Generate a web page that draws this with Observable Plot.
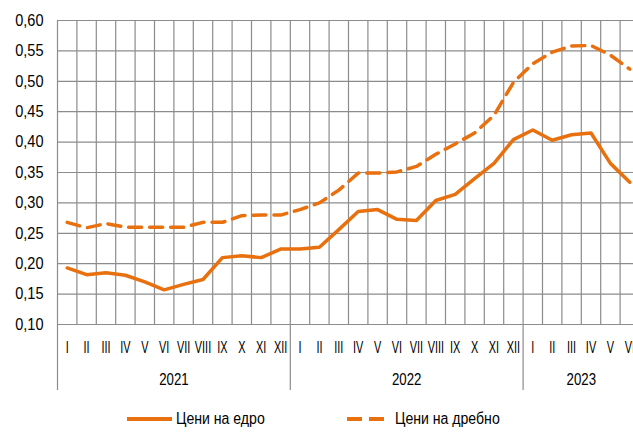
<!DOCTYPE html>
<html>
<head>
<meta charset="utf-8">
<script src="https://cdn.jsdelivr.net/npm/d3@7"></script>
<script src="https://cdn.jsdelivr.net/npm/@observablehq/plot@0.6"></script>
<style>
  html, body { margin: 0; padding: 0; background: #fff; }
  body { width: 633px; height: 437px; overflow: hidden; font-family: "Liberation Sans", Arial, sans-serif; }
  #legend { position: relative; width: 633px; height: 37px; font-size: 16px; color: #000; }
  .lg { position: absolute; top: 0; height: 37px; display: flex; align-items: center; white-space: nowrap; }
  .sw { display: inline-block; height: 0; margin-right: 4px; }
  .lt { display: inline-block; transform: scaleX(0.88); transform-origin: left center; }
</style>
</head>
<body>
<div id="chart"></div>
<div id="legend">
  <div class="lg" style="left:127px;"><span class="sw" style="width:45px;border-top:4px solid #E8700E;"></span><span class="lt">Цени на едро</span></div>
  <div class="lg" style="left:347px;"><svg width="44" height="6" style="margin-right:4px"><line x1="0" y1="3" x2="44" y2="3" stroke="#E8700E" stroke-width="4" stroke-dasharray="15,7"/></svg><span class="lt">Цени на дребно</span></div>
</div>
<script>
const monthLabels = ["I","II","III","IV","V","VI","VII","VIII","IX","X","XI","XII",
                     "I","II","III","IV","V","VI","VII","VIII","IX","X","XI","XII",
                     "I","II","III","IV","V","VI"];
const years = ["2021", "2022", "2023"];
const yearMonths = [12, 12, 6];
const wholesale = [0.193,0.182,0.185,0.181,0.170,0.157,0.166,0.174,0.210,0.213,0.210,0.224,
                   0.224,0.227,0.256,0.286,0.289,0.273,0.271,0.304,0.314,0.340,0.365,0.404,
                   0.420,0.403,0.412,0.415,0.365,0.334];
const retail = [0.268,0.259,0.266,0.260,0.260,0.260,0.260,0.268,0.268,0.279,0.280,0.280,
                0.289,0.300,0.321,0.349,0.349,0.351,0.360,0.380,0.397,0.415,0.444,0.498,
                0.529,0.548,0.558,0.559,0.543,0.520];
const yTicks = [0.10,0.15,0.20,0.25,0.30,0.35,0.40,0.45,0.50,0.55,0.60];

const orange = "#E8700E";
const grid = "#8c8c8c";
const n = monthLabels.length;
const idx = d3.range(n);
const boundaries = d3.range(n + 1);
const yearStarts = [0, ...d3.cumsum(yearMonths)];
const yearData = years.map((y, i) => ({year: y, x: (yearStarts[i] + yearStarts[i + 1]) / 2}));
const fmt = v => d3.format(".2f")(v).replace(".", ",");

const chart = Plot.plot({
  width: 633,
  height: 400,
  marginLeft: 57,
  marginRight: 0,
  marginTop: 20,
  marginBottom: 76,
  style: {fontFamily: '"Liberation Sans", Arial, sans-serif', fontSize: "16.5px", color: "#000"},
  x: {domain: [0, n], range: [57, 57 + n * 19.4], axis: null},
  y: {domain: [0.10, 0.60], range: [324, 20], axis: null},
  marks: [
    Plot.ruleY(yTicks, {x1: 0, x2: n, stroke: grid, strokeWidth: 1.2}),
    Plot.ruleX(boundaries, {y1: 0.10, y2: 0.60, stroke: grid, strokeWidth: 1.2}),
    Plot.ruleX(yearStarts, {y1: 0.10, y2: -0.0086, stroke: grid, strokeWidth: 1.2}),
    Plot.text(yTicks, {x: 0, y: d => d, text: fmt, textAnchor: "end", dx: -14, fill: "#000", className: "ytick"}),
    Plot.text(idx, {x: i => i + 0.5, y: 0.10, text: i => monthLabels[i], dy: 23, fill: "#000", className: "month"}),
    Plot.text(yearData, {x: "x", y: 0.10, text: "year", dy: 55, fill: "#000", className: "year"}),
    Plot.line(idx, {x: i => i + 0.5, y: i => retail[i], stroke: orange, strokeWidth: 3.5, strokeDasharray: "13,8"}),
    Plot.line(idx, {x: i => i + 0.5, y: i => wholesale[i], stroke: orange, strokeWidth: 3.5})
  ]
});
document.getElementById("chart").appendChild(chart);
// condense glyphs horizontally to mimic the narrow typeface of the original
const condense = (sel, k) => chart.querySelectorAll(sel + " text").forEach(t => {
  const w = t.getComputedTextLength();
  if (w > 0) {
    t.setAttribute("textLength", (w * k).toFixed(2));
    t.setAttribute("lengthAdjust", "spacingAndGlyphs");
  }
});
condense(".ytick", 0.88);
condense(".month", 0.66);
condense(".year", 0.8);
</script>
</body>
</html>
